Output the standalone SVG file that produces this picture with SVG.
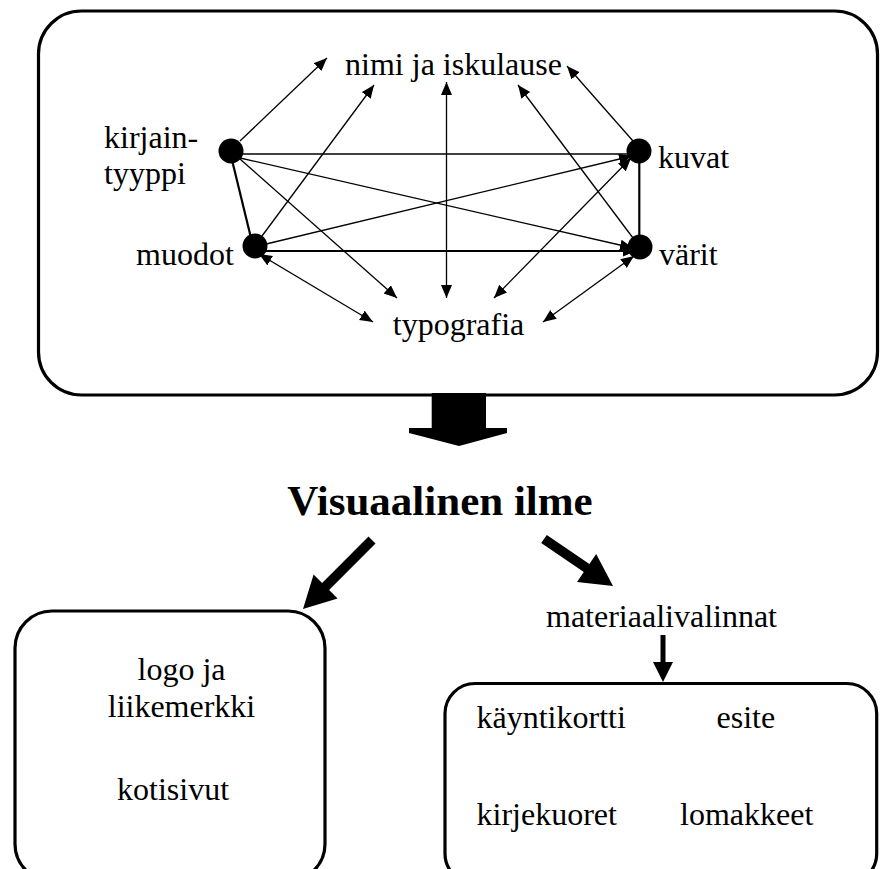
<svg xmlns="http://www.w3.org/2000/svg" width="882" height="869" viewBox="0 0 882 869">
<style>
text{font-family:"Liberation Serif","Times New Roman",serif;font-size:32px;fill:#000}
.box{fill:none;stroke:#000;stroke-width:3.2}
.e{stroke:#000;stroke-width:1.3;fill:none}
.t{stroke:#000;stroke-width:2.2;fill:none}
.dot{fill:#000}
.big{fill:#000}
</style>
<defs>
<marker id="ah" markerUnits="userSpaceOnUse" markerWidth="14" markerHeight="12" refX="13" refY="5.5" orient="auto-start-reverse" viewBox="0 0 14 12">
<path d="M0,0 L13,5.5 L0,11 Z" fill="#000"/>
</marker>
</defs>

<g id="topbox">
<rect class="box" x="38.5" y="11" width="839" height="384" rx="43" ry="43"/>
</g>

<g id="connectors">
<line class="e" x1="240" y1="141" x2="327" y2="58" marker-end="url(#ah)"/>
<line class="e" x1="262" y1="236" x2="374" y2="85" marker-end="url(#ah)"/>
<line class="e" x1="446.5" y1="82" x2="446.5" y2="298" marker-start="url(#ah)" marker-end="url(#ah)"/>
<line class="e" x1="633" y1="238" x2="518" y2="85" marker-end="url(#ah)"/>
<line class="e" x1="633" y1="141" x2="567" y2="66" marker-end="url(#ah)"/>
<line class="e" x1="231" y1="154" x2="639" y2="154"/>
<line class="e" x1="240" y1="158" x2="633" y2="248" marker-end="url(#ah)"/>
<line class="e" x1="262" y1="245" x2="632" y2="156" marker-end="url(#ah)"/>
<line class="t" x1="262" y1="251" x2="636" y2="251" marker-end="url(#ah)"/>
<line class="t" x1="232" y1="160" x2="251" y2="238"/>
<line class="t" x1="639.3" y1="160" x2="639.3" y2="240"/>
<line class="e" x1="240" y1="159" x2="397" y2="298" marker-end="url(#ah)"/>
<line class="e" x1="259" y1="254" x2="373" y2="322" marker-start="url(#ah)" marker-end="url(#ah)"/>
<line class="e" x1="631" y1="158" x2="494" y2="298" marker-start="url(#ah)" marker-end="url(#ah)"/>
<line class="e" x1="634" y1="256" x2="543" y2="322" marker-start="url(#ah)" marker-end="url(#ah)"/>
<polygon class="big" points="431.7,393 486,393 486,428 507,428 507,433 459,446 409,433 409,428 431.7,428"/>
<polygon class="big" points="368.5,536.5 322.1,582.9 313.6,574.4 303,609 337.6,598.4 329.1,589.9 375.5,543.5"/>
<polygon class="big" points="546.8,534.9 589.4,563.9 596.2,554 613,586 577,582 583.8,572.1 541.2,543.1"/>
<polygon class="big" points="660.5,635 665.5,635 665.5,662 673,662 663,682 653,662 660.5,662"/>
</g>

<g id="kirjaintyyppi">
<circle class="dot" cx="231" cy="151" r="12.5"/>
<text x="104" y="148">kirjain-</text>
<text x="104" y="184">tyyppi</text>
</g>
<g id="kuvat">
<circle class="dot" cx="639" cy="151" r="12.5"/>
<text x="658" y="168">kuvat</text>
</g>
<g id="muodot">
<circle class="dot" cx="255" cy="246" r="12.5"/>
<text x="136" y="265">muodot</text>
</g>
<g id="varit">
<circle class="dot" cx="640" cy="247" r="12.5"/>
<text x="659" y="265">värit</text>
</g>
<g id="nimi">
<text x="453.5" y="75" text-anchor="middle">nimi ja iskulause</text>
</g>
<g id="typografia">
<text x="458.5" y="335" text-anchor="middle">typografia</text>
</g>

<g id="visuaalinen">
<text x="440" y="515" text-anchor="middle" font-weight="bold" style="font-size:43px">Visuaalinen ilme</text>
</g>

<g id="leftbox">
<rect class="box" x="15" y="611" width="310" height="270" rx="37" ry="37"/>
<text x="181.5" y="680" text-anchor="middle">logo ja</text>
<text x="181.5" y="717" text-anchor="middle">liikemerkki</text>
<text x="117" y="800">kotisivut</text>
</g>

<g id="materiaalivalinnat">
<text x="661.5" y="627" text-anchor="middle">materiaalivalinnat</text>
</g>

<g id="rightbox">
<rect class="box" x="445" y="683.5" width="431.7" height="200" rx="30" ry="30"/>
<text x="476.5" y="728">käyntikortti</text>
<text x="716.5" y="728">esite</text>
<text x="476.5" y="825">kirjekuoret</text>
<text x="680" y="825">lomakkeet</text>
</g>
</svg>
